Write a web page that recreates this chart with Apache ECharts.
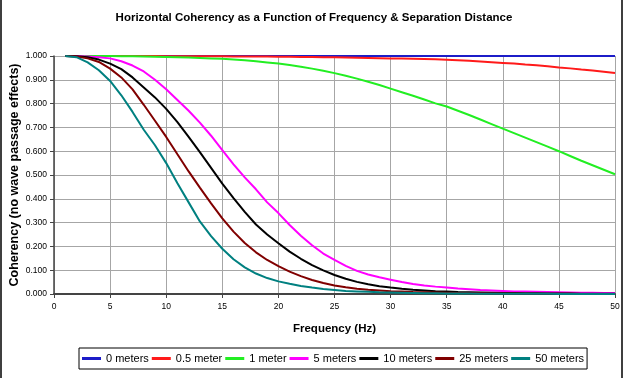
<!DOCTYPE html>
<html>
<head>
<meta charset="UTF-8">
<title>Horizontal Coherency</title>
<style>
  html, body { margin: 0; padding: 0; background: #fff; }
  #chart { width: 628px; height: 378px; }
</style>
</head>
<body>
<div id="chart"></div>
<script src="https://cdn.jsdelivr.net/npm/echarts@6/dist/echarts.min.js"></script>
<script>
// frequency (Hz), 1..50
var freq = [1,2,3,4,5,6,7,8,9,10,11,12,13,14,15,16,17,18,19,20,
            21,22,23,24,25,26,27,28,29,30,31,32,33,34,35,36,37,38,39,40,
            41,42,43,44,45,46,47,48,49,50];

var names = ['0 meters', '0.5 meter', '1 meter', '5 meters', '10 meters', '25 meters', '50 meters'];

// coherency values
var sep0 = [1,1,1,1,1,1,1,1,1,1, 1,1,1,1,1,1,1,1,1,1,
            1,1,1,1,1,1,1,1,1,1, 1,1,1,1,1,1,1,1,1,1,
            1,1,1,1,1,1,1,1,1,1];
var sep05 = [1.000,1.000,1.000,1.000,1.000,1.000,1.000,1.000,1.000,0.999,
             0.999,0.999,0.999,0.999,0.999,0.998,0.998,0.998,0.998,0.997,
             0.997,0.996,0.996,0.995,0.995,0.994,0.993,0.992,0.991,0.990,
             0.989,0.988,0.987,0.986,0.984,0.982,0.980,0.977,0.974,0.971,
             0.968,0.964,0.961,0.957,0.952,0.948,0.943,0.939,0.934,0.929];
var sep1 = [1.000,1.000,1.000,1.000,1.000,0.999,0.999,0.998,0.997,0.996,
            0.995,0.994,0.992,0.990,0.988,0.985,0.982,0.978,0.973,0.968,
            0.962,0.955,0.947,0.938,0.928,0.917,0.905,0.892,0.878,0.863,
            0.848,0.833,0.817,0.801,0.788,0.770,0.752,0.733,0.714,0.695,
            0.676,0.657,0.638,0.619,0.600,0.580,0.560,0.541,0.522,0.503];
var sep5 = [1.000,1.000,0.998,0.995,0.990,0.978,0.960,0.935,0.900,0.860,
            0.815,0.770,0.720,0.665,0.605,0.545,0.490,0.440,0.385,0.340,
            0.290,0.245,0.205,0.170,0.143,0.118,0.097,0.082,0.070,0.060,
            0.050,0.042,0.036,0.031,0.027,0.023,0.020,0.017,0.015,0.013,
            0.011,0.010,0.009,0.008,0.007,0.006,0.005,0.005,0.004,0.004];
var sep10 = [1.000,0.999,0.995,0.985,0.968,0.945,0.910,0.868,0.826,0.778,
             0.722,0.660,0.596,0.530,0.464,0.403,0.345,0.292,0.250,0.213,
             0.178,0.148,0.121,0.099,0.080,0.064,0.051,0.041,0.033,0.027,
             0.022,0.018,0.015,0.012,0.010,0.008,0.007,0.006,0.005,0.004,
             0.004,0.003,0.003,0.002,0.002,0.002,0.001,0.001,0.001,0.001];
var sep25 = [1.000,0.998,0.990,0.975,0.947,0.910,0.860,0.795,0.728,0.660,
             0.587,0.515,0.447,0.381,0.318,0.262,0.214,0.175,0.143,0.117,
             0.094,0.075,0.059,0.046,0.036,0.028,0.022,0.018,0.015,0.012,
             0.010,0.008,0.007,0.006,0.005,0.004,0.003,0.003,0.002,0.002,
             0.002,0.001,0.001,0.001,0.001,0.001,0.000,0.000,0.000,0.000];
var sep50 = [1.000,0.995,0.973,0.940,0.895,0.835,0.765,0.690,0.625,0.550,
             0.465,0.385,0.305,0.243,0.190,0.146,0.112,0.086,0.067,0.053,
             0.043,0.034,0.027,0.021,0.017,0.013,0.011,0.009,0.007,0.006,
             0.005,0.004,0.003,0.003,0.002,0.002,0.002,0.001,0.001,0.001,
             0.001,0.001,0.001,0.001,0.000,0.000,0.000,0.000,0.000,0.000];

var xTicks = [0,5,10,15,20,25,30,35,40,45,50];
var colors = ['#1c1cc8', '#ff1a1a', '#22ee22', '#ff00ff', '#000000', '#800000', '#008080'];
var values = [sep0, sep05, sep1, sep5, sep10, sep25, sep50];

var font = "'Liberation Sans', Arial, sans-serif";

function pairs(v) {
  var out = [];
  for (var i = 0; i < freq.length; i++) out.push([freq[i], v[i]]);
  return out;
}

var series = [];
for (var k = 0; k < names.length; k++) {
  series.push({
    name: names[k],
    type: 'line',
    showSymbol: false,
    smooth: false,
    lineStyle: { width: 2, color: colors[k] },
    itemStyle: { color: colors[k] },
    data: pairs(values[k])
  });
}

var chart = echarts.init(document.getElementById('chart'));
chart.setOption({
  animation: false,
  backgroundColor: '#fff',
  title: {
    text: 'Horizontal Coherency as a Function of Frequency & Separation Distance',
    left: 'center',
    top: 12,
    padding: 0,
    textStyle: { fontFamily: font, fontSize: 11.5, fontWeight: 'bold', color: '#000' }
  },
  grid: { left: 54, right: 13, top: 56, bottom: 84, containLabel: false, outerBoundsMode: 'none' },
  legend: {
    data: names,
    left: 79,
    top: 348,
    padding: [5, 3],
    borderColor: '#000',
    borderWidth: 1,
    backgroundColor: '#fff',
    icon: 'rect',
    itemWidth: 19,
    itemHeight: 3,
    itemGap: 3,
    textStyle: { fontFamily: font, fontSize: 11, color: '#000' }
  },
  xAxis: {
    type: 'value',
    min: 0,
    max: 50,
    interval: 5,
    name: 'Frequency (Hz)',
    nameLocation: 'middle',
    nameGap: 29,
    nameMoveOverlap: false,
    nameTextStyle: { fontFamily: font, fontSize: 11.5, fontWeight: 'bold', color: '#000' },
    axisLine: { lineStyle: { color: '#444', width: 2 } },
    axisTick: { show: true, length: 4, lineStyle: { color: '#444' } },
    axisLabel: {
      margin: 8,
      fontFamily: font, fontSize: 8.5, color: '#000',
      formatter: function (v) { return xTicks.indexOf(v) >= 0 ? String(v) : ''; }
    },
    splitLine: { show: true, lineStyle: { color: '#a6a6a6', width: 1 } }
  },
  yAxis: {
    type: 'value',
    min: 0,
    max: 1,
    interval: 0.1,
    name: 'Coherency (no wave passage effects)',
    nameLocation: 'middle',
    nameGap: 33,
    nameMoveOverlap: false,
    nameTextStyle: { fontFamily: font, fontSize: 12.5, fontWeight: 'bold', color: '#000' },
    axisLine: { show: true, lineStyle: { color: '#444', width: 1.5 } },
    axisTick: { show: true, length: 4, lineStyle: { color: '#444' } },
    axisLabel: {
      margin: 7,
      fontFamily: font, fontSize: 8.5, color: '#000',
      formatter: function (v) { return v.toFixed(3); }
    },
    splitLine: { show: true, lineStyle: { color: '#a6a6a6', width: 1 } }
  },
  graphic: [{
    type: 'rect',
    shape: { x: 1, y: -10, width: 621, height: 400 },
    style: { fill: 'none', stroke: '#000', lineWidth: 1.5 },
    silent: true
  }],
  series: series
});
</script>
</body>
</html>
